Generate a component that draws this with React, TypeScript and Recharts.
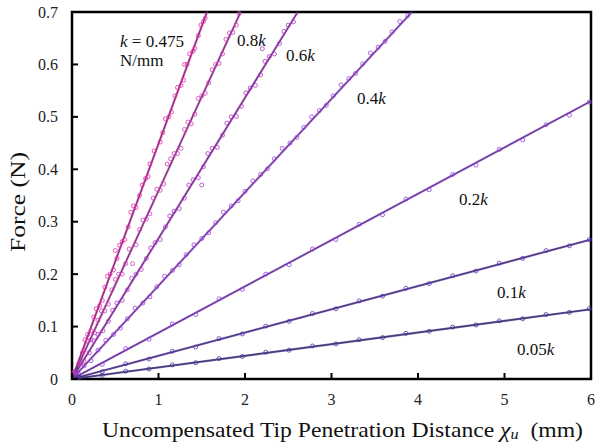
import React from 'react'
import {
  ComposedChart,
  Scatter,
  Line,
  XAxis,
  YAxis,
  ReferenceDot,
  ReferenceArea
} from 'recharts'

// measured points, [distance mm, force N]
const kPts = [
  [0.02, 0.012], [0.08, 0.03], [0.15, 0.075], [0.22, 0.092], [0.28, 0.134], [0.35, 0.15],
  [0.41, 0.196], [0.48, 0.208], [0.55, 0.255], [0.61, 0.266], [0.68, 0.318], [0.74, 0.327],
  [0.81, 0.37], [0.88, 0.386], [0.95, 0.435], [1.02, 0.452], [1.08, 0.496], [1.15, 0.509],
  [1.22, 0.556], [1.29, 0.57], [1.36, 0.62], [1.42, 0.631], [1.49, 0.675], [1.54, 0.688],
  [0.5, 0.245], [0.9, 0.41], [1.3, 0.6],
  [0.12, 0.05], [0.18, 0.085], [0.25, 0.118], [0.32, 0.14], [0.38, 0.175], [0.44, 0.2],
  [0.52, 0.23], [0.58, 0.262], [0.65, 0.29], [0.71, 0.33], [0.78, 0.35], [0.85, 0.382],
  [1.05, 0.47], [1.12, 0.5], [1.19, 0.54], [1.26, 0.56], [1.33, 0.6], [1.4, 0.625],
  [1.46, 0.655], [1.52, 0.682]
]
const k08Pts = [
  [0.03, 0.014], [0.1, 0.03], [0.18, 0.072], [0.26, 0.088], [0.34, 0.13], [0.42, 0.143],
  [0.5, 0.19], [0.58, 0.2], [0.66, 0.248], [0.74, 0.256], [0.82, 0.303], [0.9, 0.315],
  [0.98, 0.362], [1.06, 0.372], [1.14, 0.42], [1.22, 0.43], [1.3, 0.476], [1.38, 0.487],
  [1.46, 0.535], [1.54, 0.545], [1.62, 0.59], [1.7, 0.602], [1.78, 0.648], [1.86, 0.661],
  [1.93, 0.697], [0.7, 0.22], [1.1, 0.41],
  [0.14, 0.055], [0.22, 0.075], [0.3, 0.112], [0.38, 0.13], [0.46, 0.17], [0.54, 0.2],
  [0.62, 0.22], [0.78, 0.285], [0.86, 0.305], [0.94, 0.345], [1.02, 0.36], [1.18, 0.43],
  [1.26, 0.44], [1.34, 0.49], [1.42, 0.505], [1.5, 0.54], [1.58, 0.565], [1.66, 0.6],
  [1.74, 0.62], [1.82, 0.66], [1.9, 0.675]
]
const k06Pts = [
  [0.04, 0.013], [0.14, 0.034], [0.25, 0.073], [0.36, 0.092], [0.47, 0.131], [0.58, 0.15],
  [0.69, 0.192], [0.8, 0.209], [0.91, 0.25], [1.02, 0.266], [1.13, 0.311], [1.24, 0.325],
  [1.35, 0.37], [1.46, 0.384], [1.57, 0.43], [1.68, 0.442], [1.79, 0.488], [1.9, 0.501],
  [2.01, 0.546], [2.12, 0.56], [2.23, 0.606], [2.34, 0.62], [2.45, 0.663], [2.56, 0.681],
  [1.5, 0.37], [2.2, 0.63],
  [0.2, 0.05], [0.3, 0.085], [0.42, 0.11], [0.52, 0.145], [0.64, 0.17], [0.74, 0.2],
  [0.86, 0.23], [0.96, 0.26], [1.08, 0.29], [1.18, 0.32], [1.3, 0.345], [1.4, 0.38],
  [1.52, 0.405], [1.62, 0.44], [1.74, 0.465], [1.84, 0.5], [1.96, 0.52], [2.06, 0.555],
  [2.18, 0.58], [2.28, 0.615], [2.4, 0.64], [2.5, 0.675]
]
const k04Pts = [
  [0.05, 0.011], [0.22, 0.035], [0.39, 0.074], [0.56, 0.097], [0.73, 0.135], [0.9, 0.157],
  [1.07, 0.196], [1.24, 0.218], [1.41, 0.256], [1.58, 0.279], [1.75, 0.318], [1.92, 0.34],
  [2.09, 0.378], [2.26, 0.401], [2.43, 0.44], [2.6, 0.461], [2.77, 0.5], [2.94, 0.522],
  [3.11, 0.561], [3.28, 0.583], [3.45, 0.622], [3.62, 0.644], [3.79, 0.682], [3.88, 0.693],
  [0.14, 0.025], [0.3, 0.055], [0.48, 0.085], [0.64, 0.115], [0.82, 0.145], [0.98, 0.176],
  [1.16, 0.207], [1.32, 0.237], [1.5, 0.268], [1.66, 0.298], [1.84, 0.33], [2.0, 0.358],
  [2.18, 0.39], [2.34, 0.42], [2.52, 0.45], [2.68, 0.48], [2.86, 0.512], [3.02, 0.54],
  [3.2, 0.573], [3.36, 0.601], [3.54, 0.633], [3.7, 0.662]
]
const k02Pts = [
  [0.08, 0.009], [0.35, 0.028], [0.62, 0.058], [0.89, 0.076], [1.16, 0.105], [1.43, 0.123],
  [1.7, 0.153], [1.97, 0.171], [2.24, 0.2], [2.51, 0.218], [2.78, 0.248], [3.05, 0.266],
  [3.32, 0.295], [3.59, 0.313], [3.86, 0.343], [4.13, 0.361], [4.4, 0.39], [4.67, 0.408],
  [4.94, 0.438], [5.21, 0.456], [5.48, 0.485], [5.75, 0.503], [5.98, 0.528]
]
const k01Pts = [
  [0.08, 0.005], [0.35, 0.014], [0.62, 0.029], [0.89, 0.038], [1.16, 0.053], [1.43, 0.061],
  [1.7, 0.077], [1.97, 0.086], [2.24, 0.101], [2.51, 0.11], [2.78, 0.125], [3.05, 0.134],
  [3.32, 0.149], [3.59, 0.158], [3.86, 0.173], [4.13, 0.182], [4.4, 0.197], [4.67, 0.206],
  [4.94, 0.221], [5.21, 0.23], [5.48, 0.245], [5.75, 0.254], [5.98, 0.266]
]
const k005Pts = [
  [0.08, 0.003], [0.35, 0.007], [0.62, 0.015], [0.89, 0.019], [1.16, 0.027], [1.43, 0.031],
  [1.7, 0.039], [1.97, 0.043], [2.24, 0.051], [2.51, 0.055], [2.78, 0.063], [3.05, 0.067],
  [3.32, 0.075], [3.59, 0.079], [3.86, 0.087], [4.13, 0.091], [4.4, 0.099], [4.67, 0.103],
  [4.94, 0.111], [5.21, 0.115], [5.48, 0.123], [5.75, 0.127], [5.98, 0.134]
]

// fitted lines, start and end
const kFit = [[0, 0], [1.56, 0.7]]
const k08Fit = [[0, 0], [1.95, 0.7]]
const k06Fit = [[0, 0], [2.61, 0.7]]
const k04Fit = [[0, 0], [3.93, 0.7]]
const k02Fit = [[0, 0], [6, 0.53]]
const k01Fit = [[0, 0], [6, 0.266]]
const k005Fit = [[0, 0], [6, 0.133]]

const xTicks = [0, 1, 2, 3, 4, 5, 6]
const yTicks = [0, 0.1, 0.2, 0.3, 0.4, 0.5, 0.6, 0.7]

// annotation text and where it sits (data units)
const notes = [
  { x: 0.555, y: 0.634, pre: '', k: 'k', post: ' = 0.475' },
  { x: 0.555, y: 0.597, pre: 'N/mm', k: '', post: '' },
  { x: 1.908, y: 0.635, pre: '0.8', k: 'k', post: '' },
  { x: 2.474, y: 0.607, pre: '0.6', k: 'k', post: '' },
  { x: 3.295, y: 0.525, pre: '0.4', k: 'k', post: '' },
  { x: 4.474, y: 0.332, pre: '0.2', k: 'k', post: '' },
  { x: 4.913, y: 0.154, pre: '0.1', k: 'k', post: '' },
  { x: 5.145, y: 0.046, pre: '0.05', k: 'k', post: '' },
]

const FONT = 'Liberation Serif'

const toXY = (arr: number[][]) => arr.map(([x, y]) => ({ x, y }))

const series = [
  { name: 'k', pts: kPts, fit: kFit, color: '#e02aa8' },
  { name: '0.8k', pts: k08Pts, fit: k08Fit, color: '#c83cb4' },
  { name: '0.6k', pts: k06Pts, fit: k06Fit, color: '#aa36c0' },
  { name: '0.4k', pts: k04Pts, fit: k04Fit, color: '#9a40d4' },
  { name: '0.2k', pts: k02Pts, fit: k02Fit, color: '#9040d8' },
  { name: '0.1k', pts: k01Pts, fit: k01Fit, color: '#5a34b0' },
  { name: '0.05k', pts: k005Pts, fit: k005Fit, color: '#48309a' },
]

const Note = ({ viewBox, pre, k, post }: any) => {
  if (!viewBox) return null
  const x = viewBox.x + (viewBox.width || 0) / 2
  const y = viewBox.y + (viewBox.height || 0) / 2
  return (
    <text x={x} y={y} fontFamily={FONT} fontSize={17} fill="#111">
      {pre}
      {k && <tspan fontStyle="italic">{k}</tspan>}
      {post}
    </text>
  )
}

const XTitle = ({ viewBox }: any) => {
  if (!viewBox) return null
  return (
    <text
      x={102}
      y={viewBox.y + 58}
      textLength={481}
      lengthAdjust="spacingAndGlyphs"
      fontFamily={FONT}
      fontSize={22}
      fill="#111"
    >
      Uncompensated Tip Penetration Distance{' '}
      <tspan fontStyle="italic">χ</tspan>
      <tspan fontStyle="italic" fontSize={15} dy={2}>u</tspan>
      <tspan dy={-2}>{'\u00a0\u00a0(mm)'}</tspan>
    </text>
  )
}

const YTitle = ({ viewBox }: any) => {
  if (!viewBox) return null
  const cx = 25
  const cy = 202
  return (
    <text
      x={cx}
      y={cy}
      transform={`rotate(-90 ${cx} ${cy})`}
      textAnchor="middle"
      textLength={100}
      lengthAdjust="spacingAndGlyphs"
      fontFamily={FONT}
      fontSize={22}
      fill="#111"
    >
      Force (N)
    </text>
  )
}

// tick marks drawn inward as paths, with the label outside
const BottomTick = ({ x, y, payload }: any) => (
  <g>
    <path d={`M${x},${y}v-6`} stroke="#000" strokeWidth={2} />
    <text x={x} y={y + 26} textAnchor="middle" fontFamily={FONT} fontSize={16} fill="#222">
      {payload.value}
    </text>
  </g>
)
const TopTick = ({ x, y }: any) => <path d={`M${x},${y}v6`} stroke="#000" strokeWidth={2} />
const LeftTick = ({ x, y, payload }: any) => (
  <g>
    <path d={`M${x},${y}h6`} stroke="#000" strokeWidth={2} />
    <text x={x - 14} y={y + 5.5} textAnchor="end" fontFamily={FONT} fontSize={16} fill="#222">
      {payload.value === 0 ? '0' : Number(payload.value).toFixed(1)}
    </text>
  </g>
)
const RightTick = ({ x, y }: any) => <path d={`M${x},${y}h-6`} stroke="#000" strokeWidth={2} />

const ring = (color: string) => (props: any) => {
  const { cx, cy } = props
  if (cx == null || cy == null) return <g />
  return <circle cx={cx} cy={cy} r={2} fill="none" stroke={color} strokeWidth={0.8} />
}

export default function App() {
  return (
    <div style={{ position: 'absolute', left: 0, top: 0, width: 600, height: 448, background: '#fff' }}>
      <ComposedChart width={600} height={448} margin={{ top: 12, right: 8, bottom: 0, left: 0 }}>
        <XAxis
          dataKey="x"
          type="number"
          domain={[0, 6]}
          ticks={xTicks}
          height={69}
          tickSize={0}
          tickMargin={0}
          axisLine={false}
          tickLine={false}
          tick={<BottomTick />}
          label={<XTitle />}
        />
        <XAxis
          xAxisId="top"
          orientation="top"
          type="number"
          domain={[0, 6]}
          ticks={xTicks}
          height={0}
          tickSize={0}
          tickMargin={0}
          axisLine={false}
          tickLine={false}
          tick={<TopTick />}
        />
        <YAxis
          type="number"
          domain={[0, 0.7]}
          ticks={yTicks}
          width={72}
          tickSize={0}
          tickMargin={0}
          axisLine={false}
          tickLine={false}
          tick={<LeftTick />}
          label={<YTitle />}
        />
        <YAxis
          yAxisId="right"
          orientation="right"
          type="number"
          domain={[0, 0.7]}
          ticks={yTicks}
          width={1}
          tickSize={0}
          tickMargin={0}
          axisLine={false}
          tickLine={false}
          tick={<RightTick />}
        />
        {series.map((s) => (
          <Line
            key={s.name + '-band'}
            data={toXY(s.fit)}
            dataKey="y"
            type="linear"
            stroke={s.color}
            strokeWidth={2.2}
            strokeOpacity={0.8}
            dot={false}
            activeDot={false}
            isAnimationActive={false}
          />
        ))}
        {series.map((s) => (
          <Scatter
            key={s.name + '-pts'}
            data={toXY(s.pts)}
            dataKey="y"
            shape={ring(s.color)}
            isAnimationActive={false}
          />
        ))}
        {series.map((s) => (
          <Line
            key={s.name + '-fit'}
            data={toXY(s.fit)}
            dataKey="y"
            type="linear"
            stroke="#3a3050"
            strokeWidth={0.8}
            dot={false}
            activeDot={false}
            isAnimationActive={false}
          />
        ))}
        <ReferenceArea
          x1={0}
          x2={6}
          y1={0}
          y2={0.7}
          fill="none"
          fillOpacity={0}
          stroke="#000"
          strokeWidth={2.5}
          strokeOpacity={1}
          ifOverflow="visible"
        />
        {notes.map((n, i) => (
          <ReferenceDot
            key={i}
            x={n.x}
            y={n.y}
            r={0}
            fill="none"
            stroke="none"
            label={<Note pre={n.pre} k={n.k} post={n.post} />}
          />
        ))}
      </ComposedChart>
    </div>
  )
}
